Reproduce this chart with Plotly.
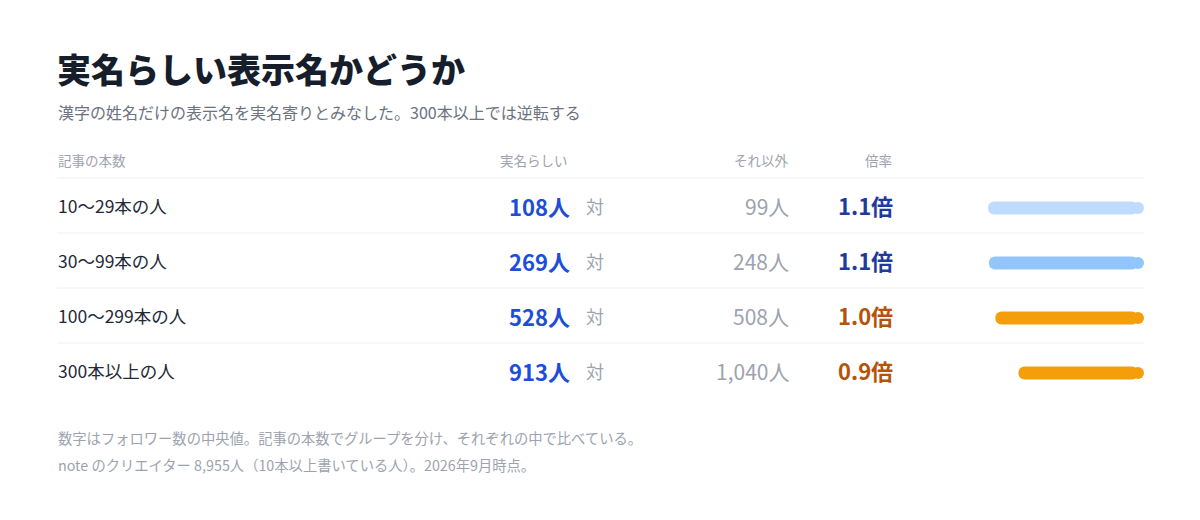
import plotly.graph_objs as go

# data
groups = ["10〜29本の人", "30〜99本の人", "100〜299本の人", "300本以上の人"]
real_named = [108, 269, 528, 913]
others = [99, 248, 508, 1040]
bar_colors = ["#bfdbfe", "#93c5fd", "#f59e0b", "#f59e0b"]

title = "実名らしい表示名かどうか"
subtitle = "漢字の姓名だけの表示名を実名寄りとみなした。300本以上では逆転する"
headers = ["記事の本数", "実名らしい", "それ以外", "倍率"]
notes = [
    "数字はフォロワー数の中央値。記事の本数でグループを分け、それぞれの中で比べている。",
    "note のクリエイター 8,955人（10本以上書いている人）。2026年9月時点。",
]

ratios = [r / o for r, o in zip(real_named, others)]

W, H = 1200, 520
OFF = 8  # page body margin
FONT = "Noto Sans CJK JP"


def px(x):
    return (x - OFF) / W


def py(y):
    return 1 - (y - OFF) / H


rows = list(range(len(groups)))

# bar axis: 0 at the right edge, grows leftwards
bar_left, bar_right, bar_max = 858, 1144, 2.0
bar_thick = 12
cap = (bar_thick / 2) / ((bar_right - bar_left) / bar_max)  # round cap radius in data units

row_top = 180.5
row_h = 55
row_mid = [row_top + row_h * (i + 0.5) for i in rows]

data = [
    go.Bar(x=[r - cap for r in ratios], base=[cap] * len(rows), y=rows,
           orientation="h", width=(bar_thick + 1) / row_h,
           marker=dict(color=bar_colors, line=dict(width=0)), hoverinfo="skip"),
    # round cap at the zero end
    go.Scatter(x=[cap] * len(rows), y=rows, mode="markers",
               marker=dict(size=bar_thick, color=bar_colors, line=dict(width=0)),
               hoverinfo="skip", cliponaxis=False),
]

annotations = []


def text(x, y, s, size, color, anchor="left", weight=400):
    annotations.append(dict(
        x=px(x), y=py(y), xref="paper", yref="paper", text=s, showarrow=False,
        xanchor=anchor, yanchor="middle",
        font=dict(family=FONT, size=size, color=color, weight=weight),
    ))


text(55, 68, title, 34, "#161d2b", weight=900)
text(56, 112, subtitle, 16, "#6b7280")

text(56, 160, headers[0], 13.5, "#9ca3af")
text(570, 160, headers[1], 13.5, "#9ca3af", "right")
text(791, 160, headers[2], 13.5, "#9ca3af", "right")
text(894, 160, headers[3], 13.5, "#9ca3af", "right")

for i, g in enumerate(groups):
    y = row_mid[i] - 2
    ratio = ratios[i]
    rcol = "#1e3a9f" if ratio >= 1.05 else "#b45309"
    text(56, y - 1, g, 17.5, "#1f2937")
    text(572, y, f"{real_named[i]:,}人", 22, "#1d4ed8", "right", 700)
    text(584, y, "対", 18, "#9ca3af")
    text(791, y, f"{others[i]:,}人", 21, "#9ca3af", "right")
    text(895, y - 1, f"{ratio:.1f}倍", 22, rcol, "right", 700)

text(56, 437, notes[0], 14.3, "#9ca3af")
text(56, 464, notes[1], 14.3, "#9ca3af")

shapes = []
for i in rows:
    yy = py(row_top - 2.5 + row_h * i)
    shapes.append(dict(type="line", xref="paper", yref="paper",
                       x0=px(57), x1=px(1144), y0=yy, y1=yy,
                       line=dict(color="#eef0f3", width=1)))

layout = go.Layout(
    width=W, height=H,
    margin=dict(l=0, r=0, t=0, b=0),
    paper_bgcolor="white", plot_bgcolor="white",
    showlegend=False,
    barcornerradius=bar_thick / 2,
    xaxis=dict(range=[bar_max, 0], domain=[px(bar_left), px(bar_right)],
               visible=False, fixedrange=True),
    yaxis=dict(range=[len(groups) - 0.5, -0.5],
               domain=[py(row_top + row_h * len(groups)), py(row_top)],
               visible=False, fixedrange=True),
    annotations=annotations,
    shapes=shapes,
)

fig = go.Figure(data=data, layout=layout)
fig.write_html("out.html", config=dict(displayModeBar=False))
